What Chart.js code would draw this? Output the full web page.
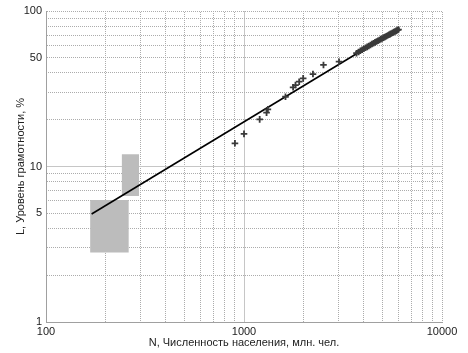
<!DOCTYPE html>
<html>
<head>
<meta charset="utf-8">
<script src="https://cdn.jsdelivr.net/npm/chart.js@4"></script>
<style>
    body { margin: 0; background: #fff; }
</style>
</head>
<body>
<canvas id="literacyChart" width="468" height="353"></canvas>
<script>
// observed points: population N (mln) vs literacy L (%)
var popN = [900, 1000, 1200, 1300, 1320, 1620, 1770, 1820, 1900, 1990, 2230, 2520, 3020,
    3700, 3790, 3870, 3950, 4030, 4110, 4190, 4270, 4350, 4430, 4510, 4590, 4670, 4750,
    4830, 4910, 4990, 5070, 5150, 5230, 5310, 5390, 5470, 5550, 5630, 5710, 5790, 5870, 5950, 6030];
var literacy = [14.1, 16.2, 20.1, 22.2, 23.3, 28.1, 32.3, 33.4, 35.1, 36.9, 39.3, 45.0, 47.2,
    53.5, 54.5, 55.5, 56.3, 57.2, 58.0, 58.8, 59.6, 60.5, 61.3, 62.0, 62.8, 63.6, 64.4,
    65.1, 65.9, 66.6, 67.4, 68.1, 68.8, 69.6, 70.3, 71.0, 71.7, 72.4, 73.1, 73.8, 74.5, 75.3, 76.0];

// fitted power law
var fitN = [170, 6100];
var fitL = [4.95, 78];

// shaded estimate boxes
var boxLeft = [167, 241];
var boxRight = [262, 295];
var boxLow = [2.8, 6.45];
var boxHigh = [6.1, 12.0];

// grid / tick values
var xGrid = [100, 200, 300, 400, 500, 600, 700, 800, 900, 1000, 2000, 3000, 4000, 5000, 6000, 7000, 8000, 9000, 10000];
var yGrid = [1, 2, 3, 4, 5, 6, 7, 8, 9, 10, 20, 30, 40, 50, 60, 70, 80, 90, 100];
var xLabels = [100, 1000, 10000];
var yLabels = [1, 5, 10, 50, 100];
var xMajor = [100, 1000];
var yMajor = [1, 10];

function makeDots(color) {
    var c = document.createElement('canvas');
    c.width = 2; c.height = 2;
    var g = c.getContext('2d');
    g.fillStyle = color;
    g.fillRect(0, 0, 1, 1);
    g.fillRect(1, 1, 1, 1);
    return g.createPattern(c, 'repeat');
}

var dotted = makeDots('#acacac');
var font = { family: "'Liberation Sans', Arial, sans-serif", size: 11 };

function gridColor(majors) {
    return function (ctx) {
        var v = ctx.tick ? ctx.tick.value : null;
        if (majors.indexOf(v) >= 0) return '#c6c6c6';
        return dotted;
    };
}

var datasets = [
    {
        type: 'scatter',
        data: popN.map(function (n, i) { return { x: n, y: literacy[i] }; }),
        pointStyle: 'cross',
        pointRadius: 3.3,
        borderColor: '#3a3a3a',
        borderWidth: 1.8
    },
    {
        type: 'line',
        data: fitN.map(function (n, i) { return { x: n, y: fitL[i] }; }),
        borderColor: '#000',
        borderWidth: 1.6,
        pointRadius: 0,
        fill: false
    }
];

for (var b = 0; b < boxLeft.length; b++) {
    datasets.push({
        type: 'line',
        data: [{ x: boxLeft[b], y: boxHigh[b] }, { x: boxRight[b], y: boxHigh[b] }],
        borderWidth: 0,
        pointRadius: 0,
        backgroundColor: '#bcbcbc',
        fill: '+1'
    });
    datasets.push({
        type: 'line',
        data: [{ x: boxLeft[b], y: boxLow[b] }, { x: boxRight[b], y: boxLow[b] }],
        borderWidth: 0,
        pointRadius: 0,
        fill: false
    });
}

var ctx = document.getElementById('literacyChart').getContext('2d');
new Chart(ctx, {
    type: 'scatter',
    data: { datasets: datasets },
    options: {
        responsive: false,
        animation: false,
        devicePixelRatio: 1,
        layout: { padding: { top: 11, right: 26, left: 0, bottom: 0 } },
        plugins: { legend: { display: false }, tooltip: { enabled: false } },
        scales: {
            x: {
                type: 'logarithmic',
                min: 100,
                max: 10000,
                afterBuildTicks: function (axis) {
                    axis.ticks = xGrid.map(function (v) { return { value: v }; });
                },
                afterFit: function (axis) { axis.height = 31; },
                grid: { color: gridColor(xMajor), drawTicks: false, lineWidth: 1 },
                border: { color: '#a0a0a0', width: 1 },
                ticks: {
                    autoSkip: false,
                    maxRotation: 0,
                    padding: 3,
                    color: '#222',
                    font: font,
                    callback: function (v) { return xLabels.indexOf(v) >= 0 ? String(v) : ''; }
                },
                title: {
                    display: true,
                    text: 'N, Численность населения, млн. чел.',
                    color: '#222',
                    font: font,
                    padding: { top: 0, bottom: 3 }
                }
            },
            y: {
                type: 'logarithmic',
                min: 1,
                max: 100,
                afterBuildTicks: function (axis) {
                    axis.ticks = yGrid.map(function (v) { return { value: v }; });
                },
                afterFit: function (axis) { axis.width = 46; },
                grid: { color: gridColor(yMajor), drawTicks: false, lineWidth: 1 },
                border: { color: '#a0a0a0', width: 1 },
                ticks: {
                    autoSkip: false,
                    padding: 4,
                    color: '#222',
                    font: font,
                    callback: function (v) { return yLabels.indexOf(v) >= 0 ? String(v) : ''; }
                },
                title: {
                    display: true,
                    text: 'L, Уровень грамотности, %',
                    color: '#222',
                    font: font,
                    padding: { top: 14, bottom: 0 }
                }
            }
        }
    }
});
</script>
</body>
</html>
